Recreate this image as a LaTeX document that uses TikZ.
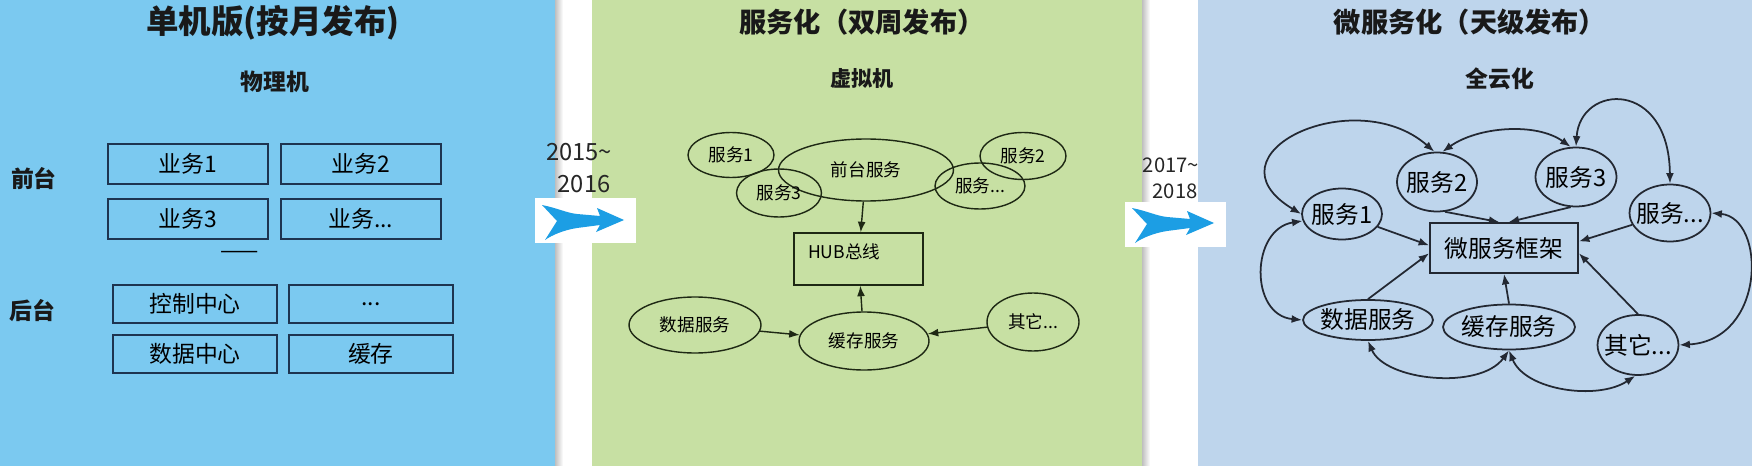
\documentclass[tikz,border=0pt]{standalone}
\usepackage{fontspec}
\setmainfont{Noto Sans CJK SC}
\usetikzlibrary{positioning,arrows.meta,shapes.geometric}
\definecolor{monocol}{RGB}{123,201,240}
\definecolor{soacol}{RGB}{199,224,163}
\definecolor{micol}{RGB}{190,213,236}
\definecolor{boxcol}{RGB}{30,52,80}
\definecolor{soaline}{RGB}{30,40,20}
\definecolor{miline}{RGB}{35,40,50}
\definecolor{swooshcol}{RGB}{28,158,228}
\newcommand{\fsz}[1]{\fontsize{#1}{#1}\selectfont}

\begin{document}
\begin{tikzpicture}[
  x=0.02cm, y=-0.02cm,
  title/.style={font=\bfseries\fsz{15.5pt}, text=black!90},
  sub/.style={font=\bfseries\fsz{13pt}, text=black!90},
  year/.style={font=\fsz{13.5pt}, text=black!85},
  biz/.style={rectangle, draw=boxcol, line width=1.1pt, inner sep=0pt,
              minimum width=3.2cm, minimum height=0.8cm, font=\fsz{13pt}},
  back/.style={biz, minimum width=3.28cm, minimum height=0.76cm},
  svc/.style={ellipse, draw=soaline, line width=0.8pt, inner sep=0pt, font=\fsz{10pt}},
  hubbox/.style={rectangle, draw=soaline, line width=0.8pt, font=\fsz{10pt},
                 text width=2.02cm, align=left, inner xsep=0.28cm, inner ysep=0pt,
                 minimum height=1.04cm, text depth=0.3cm},
  msvc/.style={ellipse, draw=miline, line width=1pt, inner xsep=-0.1cm, inner ysep=0pt,
               font=\fsz{13.5pt}},
  mframe/.style={rectangle, draw=miline, line width=1pt, minimum width=2.96cm,
                 minimum height=1cm, font=\fsz{13.5pt}},
  ea/.style={-{Latex[length=6pt,width=4.5pt]}, line width=0.8pt, #1},
  dea/.style={{Latex[length=6pt,width=4.5pt]}-{Latex[length=6pt,width=4.5pt]}, line width=1pt, #1},
  swoosh/.style={fill=swooshcol}
]

\fill[white] (0,0) rectangle (1752,466);
\useasboundingbox (0,0) rectangle (1752,466);

% three stages
\fill[monocol] (0,0) rectangle (555,466);
\fill[soacol] (592,0) rectangle (1142,466);
\fill[micol] (1198,0) rectangle (1752,466);
\shade[left color=black!25, right color=white] (555,0) rectangle (563,466);
\shade[left color=black!25, right color=white] (1142,0) rectangle (1150,466);

% transition arrows
\fill[white] (535,198) rectangle (636,243);
\fill[white] (1125,202) rectangle (1226,247);
\foreach \ax/\ay in {542/205, 1132/208}
  \fill[swoosh, shift={(\ax,\ay)}] (0,0) .. controls (15,3) and (25,8) .. (35,9)
    -- (58,11) -- (55,3) -- (82,15) -- (54,27) -- (58,20) -- (35,23)
    .. controls (22,25) and (10,30) .. (3,35) -- (15,16) -- cycle;

\node[year] (y1a) at (579,152) {2015\textasciitilde};
\node[year] (y1b) at (584,184) {2016};
\node[year, font=\fsz{11.5pt}] (y2a) at (1171,165) {2017\textasciitilde};
\node[year, font=\fsz{11.5pt}] (y2b) at (1175,191) {2018};

% stage 1
\node[title, font=\bfseries\fsz{18.5pt}] (t1) at (273,23) {单机版(按月发布)};
\node[sub] (s1) at (275,82) {物理机};
\node[sub] (front) at (34,179) {前台};
\node[sub] (rear)  at (32,311) {后台};

\node[biz] (b1) at (188,164) {业务1};
\node[biz, right=0.22cm of b1] (b2) {业务2};
\node[biz, below=0.26cm of b1] (b3) {业务3};
\node[biz, below=0.26cm of b2] (b4) {业务...};

\node[font=\fsz{13pt}] (sep) at (240,255) {——};

\node[back] (c1) at (195,304) {控制中心};
\node[back, right=0.2cm of c1] (c2) {...};
\node[back, below=0.2cm of c1] (c3) {数据中心};
\node[back, below=0.2cm of c2] (c4) {缓存};

% stage 2
\node[title] (t2) at (862,22) {服务化（双周发布）};
\node[sub, font=\bfseries\fsz{12pt}] (s2) at (862,78) {虚拟机};

\node[svc, minimum width=1.72cm, minimum height=0.9cm]  (p1) at (731,155) {服务1};
\node[svc, minimum width=3.5cm,  minimum height=1.24cm] (pf) at (866,170) {前台服务};
\node[svc, minimum width=1.7cm,  minimum height=0.96cm] (p3) at (779,193) {服务3};
\node[svc, minimum width=1.72cm, minimum height=0.94cm] (p2) at (1023,156) {服务2};
\node[svc, minimum width=1.8cm,  minimum height=0.92cm] (px) at (980,186) {服务...};
\node[hubbox] (hub) at (858.5,259) {HUB总线};
\node[svc, minimum width=2.64cm, minimum height=1.12cm] (pd) at (695,325) {数据服务};
\node[svc, minimum width=2.6cm,  minimum height=1.16cm] (pc) at (864,341) {缓存服务};
\node[svc, minimum width=1.84cm, minimum height=1.16cm] (po) at (1033,322) {其它...};

\foreach \n in {pf,pc} \draw[ea=soaline] (\n)--(hub);
\foreach \n in {pd,po} \draw[ea=soaline] (\n)--(pc);

% stage 3
\node[title] (t3) at (1470,22) {微服务化（天级发布）};
\node[sub] (s3) at (1500,79) {全云化};

\node[msvc, minimum width=1.6cm,  minimum height=1.02cm] (m1) at (1342,214) {服务1};
\node[msvc, minimum width=1.6cm,  minimum height=1.18cm] (m2) at (1437,182) {服务2};
\node[msvc, minimum width=1.62cm, minimum height=1.18cm] (m3) at (1576,177) {服务3};
\node[msvc, minimum width=1.6cm,  minimum height=1.14cm] (mx) at (1670,213) {服务...};
\node[mframe] (frame) at (1504,248) {微服务框架};
\node[msvc, minimum width=2.6cm,  minimum height=0.8cm]  (md) at (1368,320) {数据服务};
\node[msvc, minimum width=2.64cm, minimum height=0.9cm]  (mc) at (1509,327) {缓存服务};
\node[msvc, minimum width=1.6cm,  minimum height=1.2cm]  (mo) at (1638,345) {其它...};

\draw[ea=miline, line width=1pt] (m1)--(frame.178);
\draw[ea=miline, line width=1pt] (m2.285)--(frame.100);
\draw[ea=miline, line width=1pt] (m3.260)--(frame.80);
\draw[ea=miline, line width=1pt] (mx)--(frame.5);
\draw[ea=miline, line width=1pt] (md.north)--(frame.184);
\draw[ea=miline, line width=1pt] (mc.north)--(frame.south);
\draw[ea=miline, line width=1pt] (mo.north)--(frame.356);

\draw[dea=miline] (m1.west) .. controls +(-100,-60) and +(-80,-70) .. (m2.95);
\draw[dea=miline] (m2.80) .. controls +(35,-25) and +(-35,-25) .. (m3.100);
\draw[dea=miline] (m3.north) .. controls +(4,-63) and +(-1,-105) .. (mx.north);
\draw[dea=miline] (mx.east) .. controls +(55,5) and +(87,-5) .. (mo.east);
\draw[dea=miline] (m1.190) .. controls +(-52,8) and +(-53,-5) .. (md.west);
\draw[dea=miline] (md.south) .. controls +(17,40) and +(-29,40) .. (mc.south);
\draw[dea=miline] (mc.south) .. controls +(16,40) and +(-38,25) .. (mo.265);

\end{tikzpicture}
\end{document}
